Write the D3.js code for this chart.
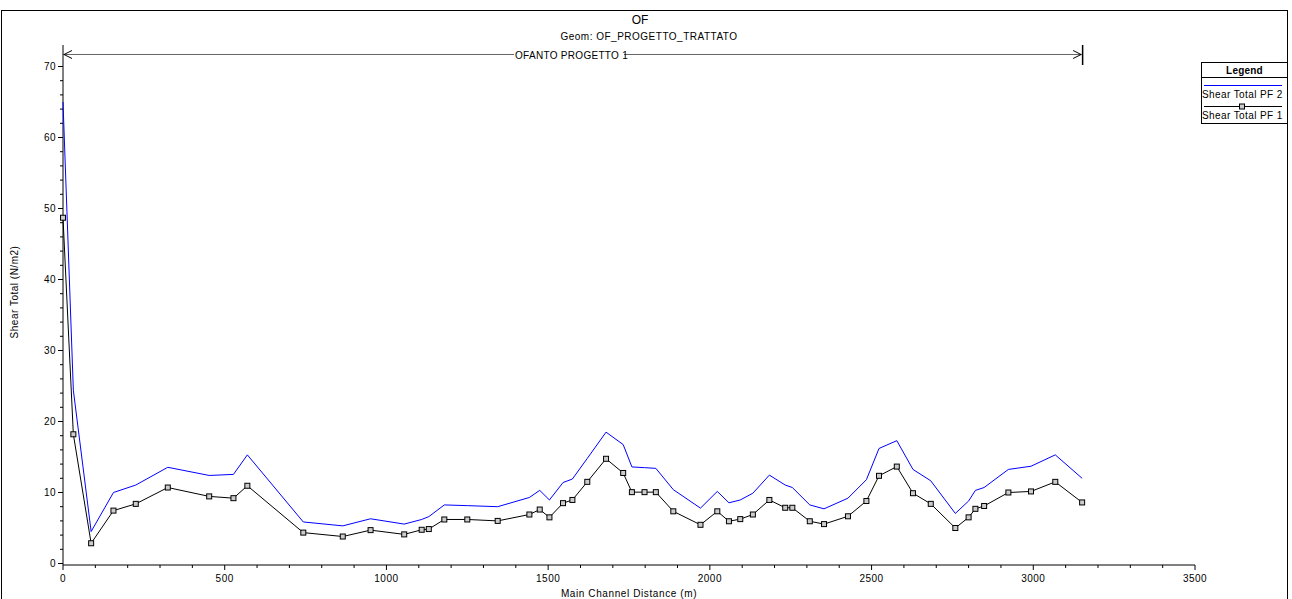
<!DOCTYPE html>
<html><head><meta charset="utf-8">
<script src="https://cdn.jsdelivr.net/npm/d3@7"></script>
<style>body{margin:0;background:#fff}svg{display:block;font-family:"Liberation Sans",Arial,sans-serif}</style>
</head><body><svg id="c" width="1292" height="599"></svg>
<script>
const stations = [0,32,87,156,225,324,452,527,570,743,865,951,1055,1109,1131,1179,1250,1344,1442,1474,1504,1546,1575,1621,1679,1732,1759,1798,1833,1887,1971,2023,2059,2094,2133,2184,2233,2255,2309,2353,2427,2484,2523,2578,2628,2683,2759,2800,2821,2848,2923,2993,3068,3151];
const pf1 = [48.7,18.2,2.85,7.45,8.4,10.7,9.45,9.2,10.95,4.35,3.8,4.7,4.1,4.75,4.85,6.2,6.2,6.0,6.9,7.6,6.5,8.5,8.95,11.5,14.75,12.75,10.05,10.05,10.05,7.35,5.45,7.35,5.95,6.25,6.9,8.95,7.85,7.85,5.95,5.55,6.65,8.8,12.35,13.65,9.9,8.4,5.0,6.5,7.7,8.1,10.0,10.15,11.5,8.6];
const pf2 = [65,24.4,4.5,10.0,11.05,13.55,12.4,12.55,15.3,5.85,5.3,6.3,5.55,6.2,6.6,8.25,8.15,8.0,9.3,10.3,8.95,11.4,11.9,14.8,18.5,16.75,13.6,13.5,13.4,10.4,7.8,10.15,8.55,8.95,9.9,12.45,11.05,10.7,8.25,7.7,9.2,11.8,16.2,17.3,13.25,11.65,7.05,8.8,10.3,10.7,13.25,13.7,15.3,12.0];
const xTicks = [0,500,1000,1500,2000,2500,3000,3500];
const yTicks = [0,10,20,30,40,50,60,70];
const seriesNames = ["Shear Total PF 2","Shear Total PF 1"];
const reachName = "OFANTO PROGETTO 1";

const svg = d3.select("#c");
const x = d3.scaleLinear().domain([0,3500]).range([63,1195]);
const y = d3.scaleLinear().domain([0,70]).range([563.5,66.5]);
const axisY0 = 565;
const LS = "0.5";

// frame
svg.append("rect").attr("x",1.5).attr("y",10.5).attr("width",1286).attr("height",600).attr("fill","none").attr("stroke","#000").attr("stroke-width",1);

// titles
svg.append("text").attr("x",640).attr("y",24).attr("text-anchor","middle").attr("font-size",12).text("OF");
svg.append("text").attr("x",649).attr("y",40).attr("text-anchor","middle").attr("font-size",10).attr("letter-spacing",LS).text("Geom: OF_PROGETTO_TRATTATO");

// reach arrow
const ry = 54.5;
svg.append("line").attr("x1",x(0)).attr("x2",x(3151)).attr("y1",ry).attr("y2",ry).attr("stroke","#666").attr("stroke-width",1);
svg.append("line").attr("x1",x(3151)+0.5).attr("x2",x(3151)+0.5).attr("y1",45).attr("y2",65).attr("stroke","#000").attr("stroke-width",1.5);
svg.append("path").attr("d",`M${x(0)+9},${ry-4}L${x(0)+1},${ry}L${x(0)+9},${ry+4}`).attr("fill","none").attr("stroke","#000");
svg.append("path").attr("d",`M${x(3151)-9},${ry-4}L${x(3151)-1},${ry}L${x(3151)-9},${ry+4}`).attr("fill","none").attr("stroke","#000");
svg.append("rect").attr("x",514).attr("y",48).attr("width",110).attr("height",12).attr("fill","#fff");
svg.append("text").attr("x",515).attr("y",58.5).attr("font-size",10).attr("letter-spacing","0.3").text(reachName);

// axes
const xAxis = svg.append("g").attr("transform",`translate(0,${axisY0})`);
xAxis.append("line").attr("x1",x(0)).attr("x2",x(3500)).attr("stroke","#000");
xAxis.selectAll(".mt").data(d3.range(0,3501,100)).join("line")
  .attr("x1",d=>x(d)).attr("x2",d=>x(d)).attr("y1",0).attr("y2",d=>d%500===0?5:3).attr("stroke","#000");
xAxis.selectAll(".tl").data(xTicks).join("text").attr("x",d=>x(d)).attr("y",17).attr("text-anchor","middle").attr("font-size",10).attr("letter-spacing",LS).text(d=>d);
svg.append("text").attr("x",629).attr("y",597).attr("text-anchor","middle").attr("font-size",10).attr("letter-spacing","0.6").text("Main Channel Distance (m)");

const yAxis = svg.append("g");
yAxis.append("line").attr("x1",63).attr("x2",63).attr("y1",axisY0).attr("y2",45).attr("stroke","#000");
yAxis.selectAll(".mt").data(d3.range(0,71,2)).join("line")
  .attr("x1",63).attr("x2",d=>d%10===0?58:60).attr("y1",d=>y(d)).attr("y2",d=>y(d)).attr("stroke","#000");
yAxis.selectAll(".tl").data(yTicks).join("text").attr("x",56).attr("y",d=>y(d)+3.5).attr("text-anchor","end").attr("font-size",10).attr("letter-spacing",LS).text(d=>d);
svg.append("text").attr("transform","translate(18,292) rotate(-90)").attr("text-anchor","middle").attr("font-size",10).attr("letter-spacing",LS).text("Shear Total (N/m2)");

// lines
const line = d3.line().x(d=>x(d[0])).y(d=>y(d[1]));
svg.append("path").attr("d",line(stations.map((s,i)=>[s,pf2[i]]))).attr("fill","none").attr("stroke","#0000ff").attr("stroke-width",1);
svg.append("path").attr("d",line(stations.map((s,i)=>[s,pf1[i]]))).attr("fill","none").attr("stroke","#000").attr("stroke-width",1);
svg.selectAll(".mk").data(stations.map((s,i)=>[s,pf1[i]])).join("rect")
  .attr("x",d=>x(d[0])-2.5).attr("y",d=>y(d[1])-2.5).attr("width",5).attr("height",5)
  .attr("fill","#ccc").attr("stroke","#000").attr("stroke-width",1);

// legend
const lg = svg.append("g");
lg.append("rect").attr("x",1201.5).attr("y",62.5).attr("width",86).attr("height",61).attr("fill","#fff").attr("stroke","#000");
lg.append("line").attr("x1",1201.5).attr("x2",1287.5).attr("y1",77.5).attr("y2",77.5).attr("stroke","#000");
lg.append("text").attr("x",1244.5).attr("y",74).attr("text-anchor","middle").attr("font-size",10).attr("font-weight","bold").attr("letter-spacing","0.2").text("Legend");
lg.append("line").attr("x1",1204).attr("x2",1282).attr("y1",85.5).attr("y2",85.5).attr("stroke","#0000ff");
lg.append("text").attr("x",1202).attr("y",98).attr("font-size",10).attr("letter-spacing","0.4").text(seriesNames[0]);
lg.append("line").attr("x1",1204).attr("x2",1282).attr("y1",106.5).attr("y2",106.5).attr("stroke","#000");
lg.append("rect").attr("x",1239.5).attr("y",104).attr("width",5).attr("height",5).attr("fill","#ccc").attr("stroke","#000");
lg.append("text").attr("x",1202).attr("y",119).attr("font-size",10).attr("letter-spacing","0.4").text(seriesNames[1]);
</script></body></html>
